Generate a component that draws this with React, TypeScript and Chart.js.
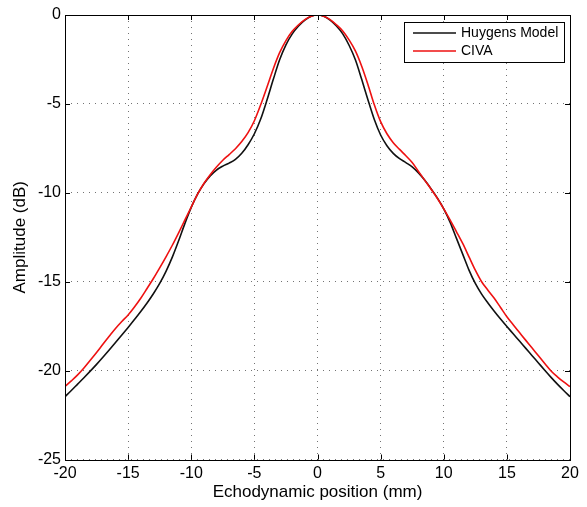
import React, { useEffect, useRef } from "react";
import { Chart, registerables } from "chart.js";

Chart.register(...registerables);

const positions = [
  -20, -19.5, -19, -18.5, -18, -17.5, -17, -16.5, -16, -15.5, -15, -14.5, -14, -13.5, -13, -12.5, -12, -11.5, -11, -10.5,
  -10, -9.5, -9, -8.5, -8, -7.5, -7, -6.5, -6, -5.5, -5, -4.5, -4, -3.5, -3, -2.5, -2, -1.5, -1, -0.5,
  0, 0.5, 1, 1.5, 2, 2.5, 3, 3.5, 4, 4.5, 5, 5.5, 6, 6.5, 7, 7.5, 8, 8.5, 9, 9.5,
  10, 10.5, 11, 11.5, 12, 12.5, 13, 13.5, 14, 14.5, 15, 15.5, 16, 16.5, 17, 17.5, 18, 18.5, 19, 19.5, 20,
];

const huygens = [
  -21.47, -21.12, -20.76, -20.4, -20.03, -19.65, -19.25, -18.84, -18.42, -18.0, -17.57, -17.13, -16.68, -16.2, -15.68, -15.1, -14.42, -13.62, -12.7, -11.72,
  -10.82, -10.08, -9.5, -9.05, -8.72, -8.5, -8.33, -8.12, -7.78, -7.3, -6.68, -5.85, -4.78, -3.62, -2.52, -1.68, -1.06, -0.62, -0.29, -0.07,
  0, -0.07, -0.29, -0.62, -1.06, -1.7, -2.52, -3.62, -4.78, -5.88, -6.75, -7.35, -7.78, -8.08, -8.3, -8.54, -8.88, -9.3, -9.78, -10.3,
  -10.9, -11.65, -12.55, -13.45, -14.35, -15.1, -15.7, -16.2, -16.66, -17.1, -17.52, -17.93, -18.34, -18.75, -19.16, -19.57, -19.98, -20.38, -20.76, -21.12, -21.47,
];

const civa = [
  -20.9, -20.58, -20.24, -19.85, -19.42, -18.98, -18.52, -18.07, -17.63, -17.24, -16.87, -16.42, -15.93, -15.38, -14.82, -14.22, -13.6, -12.95, -12.25, -11.52,
  -10.8, -10.08, -9.48, -8.98, -8.55, -8.17, -7.85, -7.52, -7.12, -6.62, -5.95, -5.05, -4.05, -3.02, -2.12, -1.44, -0.92, -0.55, -0.26, -0.07,
  0, -0.07, -0.26, -0.55, -0.9, -1.4, -2.02, -2.88, -3.92, -5.05, -6.0, -6.68, -7.18, -7.56, -7.92, -8.3, -8.8, -9.3, -9.8, -10.32,
  -10.9, -11.52, -12.18, -12.85, -13.6, -14.35, -15.0, -15.48, -15.93, -16.45, -16.97, -17.42, -17.86, -18.3, -18.73, -19.17, -19.6, -20.02, -20.35, -20.64, -20.9,
];

const seriesNames = ["Huygens Model", "CIVA"];
const seriesColors = ["#111111", "#ee1111"];
const xTitle = "Echodynamic position (mm)";
const yTitle = "Amplitude (dB)";

const FONT = "'Liberation Sans', Arial, Helvetica, sans-serif";

const framePlugin = {
  id: "frame",
  afterDatasetsDraw(chart: any) {
    const { ctx, chartArea } = chart;
    const { left, right, top, bottom } = chartArea;
    const xs = chart.scales.x;
    const ys = chart.scales.y;
    ctx.save();
    ctx.strokeStyle = "#000";
    ctx.lineWidth = 1;
    ctx.beginPath();
    const L = 5;
    xs.ticks.forEach((t: any) => {
      const px = Math.round(xs.getPixelForValue(t.value)) + 0.5;
      ctx.moveTo(px, bottom);
      ctx.lineTo(px, bottom - L);
      ctx.moveTo(px, top);
      ctx.lineTo(px, top + L);
    });
    ys.ticks.forEach((t: any) => {
      const py = Math.round(ys.getPixelForValue(t.value)) + 0.5;
      ctx.moveTo(left, py);
      ctx.lineTo(left + L, py);
      ctx.moveTo(right, py);
      ctx.lineTo(right - L, py);
    });
    ctx.stroke();
    ctx.strokeRect(Math.round(left) + 0.5, Math.round(top) + 0.5, Math.round(right - left), Math.round(bottom - top));

    // legend
    const bx = 404.5, by = 22.5, bw = 160, bh = 40;
    ctx.fillStyle = "#fff";
    ctx.fillRect(bx, by, bw, bh);
    ctx.strokeStyle = "#000";
    ctx.strokeRect(bx, by, bw, bh);
    ctx.font = `14px ${FONT}`;
    ctx.textBaseline = "middle";
    ctx.textAlign = "left";
    const rows = [33, 51];
    chart.data.datasets.forEach((ds: any) => {
      const idx = seriesNames.indexOf(ds.label);
      const y = rows[idx];
      ctx.strokeStyle = ds.borderColor;
      ctx.lineWidth = 1.5;
      ctx.beginPath();
      ctx.moveTo(413, y);
      ctx.lineTo(456, y);
      ctx.stroke();
      ctx.fillStyle = "#000";
      ctx.fillText(ds.label, 461, y + 0.5);
    });
    ctx.restore();
  },
};

export default function App() {
  const ref = useRef<HTMLCanvasElement | null>(null);
  useEffect(() => {
    if (!ref.current) return;
    const padLeft = 7;
    const padBottom = 4;
    const chart = new Chart(ref.current, {
      type: "line",
      data: {
        datasets: [
          {
            label: seriesNames[0],
            data: positions.map((x, i) => ({ x, y: huygens[i] })),
            borderColor: seriesColors[0],
            borderWidth: 1.6,
            pointRadius: 0,
            cubicInterpolationMode: "monotone",
            order: 2,
          },
          {
            label: seriesNames[1],
            data: positions.map((x, i) => ({ x, y: civa[i] })),
            borderColor: seriesColors[1],
            borderWidth: 1.6,
            pointRadius: 0,
            cubicInterpolationMode: "monotone",
            order: 1,
          },
        ],
      },
      options: {
        responsive: false,
        animation: false,
        layout: { padding: { left: padLeft, right: 17, top: 15, bottom: padBottom } },
        plugins: { legend: { display: false }, tooltip: { enabled: false } },
        scales: {
          x: {
            type: "linear",
            min: -20,
            max: 20,
            afterFit: (s: any) => {
              s.height = 507 - padBottom - 459.5;
            },
            ticks: {
              stepSize: 5,
              color: "#000",
              padding: 4,
              font: { family: FONT, size: 16 },
            },
            grid: { color: "rgba(0,0,0,0.55)", lineWidth: 1, drawTicks: false },
            border: { display: false, dash: [1, 5] },
            title: {
              display: true,
              text: xTitle,
              color: "#000",
              font: { family: FONT, size: 17 },
              padding: 0,
            },
          },
          y: {
            type: "linear",
            min: -25,
            max: 0,
            afterFit: (s: any) => {
              s.width = 65 - padLeft;
            },
            ticks: {
              stepSize: 5,
              color: "#000",
              padding: 4,
              font: { family: FONT, size: 16 },
            },
            grid: { color: "rgba(0,0,0,0.55)", lineWidth: 1, drawTicks: false },
            border: { display: false, dash: [1, 5] },
            title: {
              display: true,
              text: yTitle,
              color: "#000",
              font: { family: FONT, size: 17 },
              padding: { top: 3, bottom: 0 },
            },
          },
        },
      },
      plugins: [framePlugin],
    });
    return () => chart.destroy();
  }, []);
  return (
    <div style={{ position: "absolute", left: 0, top: 0, width: 587, height: 507, background: "#fff" }}>
      <canvas ref={ref} width={587} height={507} style={{ width: 587, height: 507, display: "block" }} />
    </div>
  );
}
